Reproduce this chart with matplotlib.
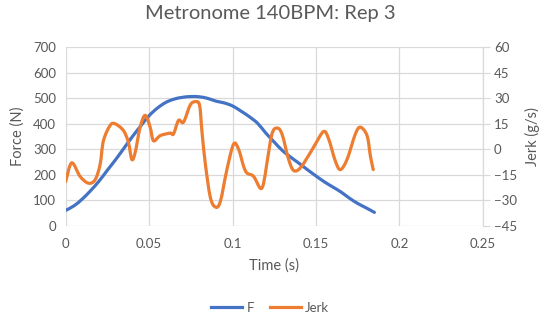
import matplotlib
matplotlib.use("Agg")
import matplotlib.pyplot as plt
from matplotlib.lines import Line2D
from matplotlib.path import Path
from matplotlib.patches import PathPatch

# Force trace (N) sampled every 5 ms
force_time = [0.000, 0.005, 0.010, 0.015, 0.020, 0.025, 0.030, 0.035, 0.040,
              0.045, 0.050, 0.055, 0.060, 0.065, 0.070, 0.075, 0.080, 0.085,
              0.090, 0.095, 0.100, 0.105, 0.110, 0.115, 0.120, 0.125, 0.130,
              0.135, 0.140, 0.145, 0.150, 0.155, 0.160, 0.165, 0.170, 0.175,
              0.180, 0.185]
force_n = [60, 78, 105, 138, 175, 218, 260, 305, 350,
           392, 432, 462, 484, 497, 504, 507, 506, 500,
           489, 482, 470, 450, 428, 402, 363, 328, 294,
           268, 244, 219, 195, 172, 152, 132, 108, 87,
           70, 52]

# Jerk trace (g/s)
jerk_time = [0.0000, 0.0036, 0.0086, 0.0136, 0.0176, 0.0206, 0.0226, 0.0266,
             0.0296, 0.0346, 0.0376, 0.0396, 0.0416, 0.0446, 0.0476, 0.0506,
             0.0526, 0.0566, 0.0626, 0.0646, 0.0676, 0.0706, 0.0746, 0.0776,
             0.0802, 0.0816, 0.0836, 0.0866, 0.0896, 0.0926, 0.0966, 0.1006,
             0.1036, 0.1066, 0.1086, 0.1126, 0.1166, 0.1186, 0.1206, 0.1236,
             0.1266, 0.1296, 0.1336, 0.1366, 0.1406, 0.1466, 0.1496, 0.1546,
             0.1576, 0.1616, 0.1646, 0.1686, 0.1736, 0.1766, 0.1806, 0.1826,
             0.1843]
jerk_gs = [-19, -8, -16, -20, -18, -9, 5, 14,
           15, 11, 4, -6, -2, 13, 20, 13,
           5, 8, 9.5, 9, 17, 16, 26, 28,
           26, 11, -8, -28, -34, -31, -12, 3,
           0, -10, -14, -16, -23, -20, -8, 9,
           12.5, 9, -6, -12.5, -11, -2, 3, 10.5,
           6, -7, -12, -6, 9, 13, 8, -4,
           -12]

x_ticks = [0, 0.05, 0.1, 0.15, 0.2, 0.25]
x_tick_labels = ["0", "0.05", "0.1", "0.15", "0.2", "0.25"]
force_ticks = [0, 100, 200, 300, 400, 500, 600, 700]
jerk_ticks = [-45, -30, -15, 0, 15, 30, 45, 60]

BLUE = "#4472C4"
ORANGE = "#ED7D31"
GRID = "#D9D9D9"
TEXT = "#595959"
LW = 2.3


def smoothed_path(xs, ys):
    """Cardinal-spline (Bezier) path through every data point, like a
    spreadsheet 'smoothed line'."""
    pts = list(zip(xs, ys))
    n = len(pts)
    verts = [pts[0]]
    codes = [Path.MOVETO]
    for i in range(n - 1):
        p0 = pts[i - 1] if i > 0 else pts[i]
        p1 = pts[i]
        p2 = pts[i + 1]
        p3 = pts[i + 2] if i + 2 < n else pts[i + 1]
        c1 = (p1[0] + (p2[0] - p0[0]) / 6, p1[1] + (p2[1] - p0[1]) / 6)
        c2 = (p2[0] - (p3[0] - p1[0]) / 6, p2[1] - (p3[1] - p1[1]) / 6)
        verts += [c1, c2, p2]
        codes += [Path.CURVE4] * 3
    return Path(verts, codes)


plt.rcParams["font.family"] = ["Lato", "DejaVu Sans"]

fig = plt.figure(figsize=(5.4, 3.27), dpi=100)
ax = fig.add_axes([0.1217, 0.31, 0.7725, 0.545])
ax2 = ax.twinx()

ax.add_patch(PathPatch(smoothed_path(force_time, force_n), fill=False,
                       edgecolor=BLUE, lw=LW, capstyle="round",
                       joinstyle="round", zorder=3))
ax2.add_patch(PathPatch(smoothed_path(jerk_time, jerk_gs), fill=False,
                        edgecolor=ORANGE, lw=LW, capstyle="round",
                        joinstyle="round", zorder=3))

ax.set_xlim(0, 0.25)
ax.set_ylim(0, 700)
ax2.set_ylim(-45, 60)
ax.set_xticks(x_ticks)
ax.set_xticklabels(x_tick_labels)
ax.set_yticks(force_ticks)
ax2.set_yticks(jerk_ticks)

ax.grid(True, color=GRID, lw=0.9)
ax.set_axisbelow(True)
for a in (ax, ax2):
    for s in a.spines.values():
        s.set_visible(False)

ax.tick_params(axis="both", length=0, colors=TEXT, labelsize=9.5, pad=7)
ax.tick_params(axis="x", pad=9)
ax2.tick_params(axis="y", length=5, width=0.9, colors=TEXT,
                labelsize=9.5, pad=3)
ax2.tick_params(axis="y", color=GRID)
ax2.spines["right"].set_visible(True)
ax2.spines["right"].set_color(GRID)
ax2.spines["right"].set_linewidth(0.9)

ax.set_xlabel("Time (s)", color=TEXT, fontsize=10.5, labelpad=6)
ax.set_ylabel("Force (N)", color=TEXT, fontsize=10.5, labelpad=6)
ax2.set_ylabel("Jerk (g/s)", color=TEXT, fontsize=10.5, labelpad=6)

fig.suptitle("Metronome 140BPM: Rep 3", x=0.5, y=0.985, color=TEXT,
             fontsize=14.5)

handles = [Line2D([], [], color=BLUE, lw=LW), Line2D([], [], color=ORANGE, lw=LW)]
fig.legend(handles, ["F", "Jerk"], loc="center", bbox_to_anchor=(0.5, 0.058),
           ncol=2, frameon=False, fontsize=9.5, labelcolor=TEXT,
           handlelength=2.4, handletextpad=0.3, columnspacing=1.2)

fig.savefig("out.png", dpi=100, facecolor="white")
